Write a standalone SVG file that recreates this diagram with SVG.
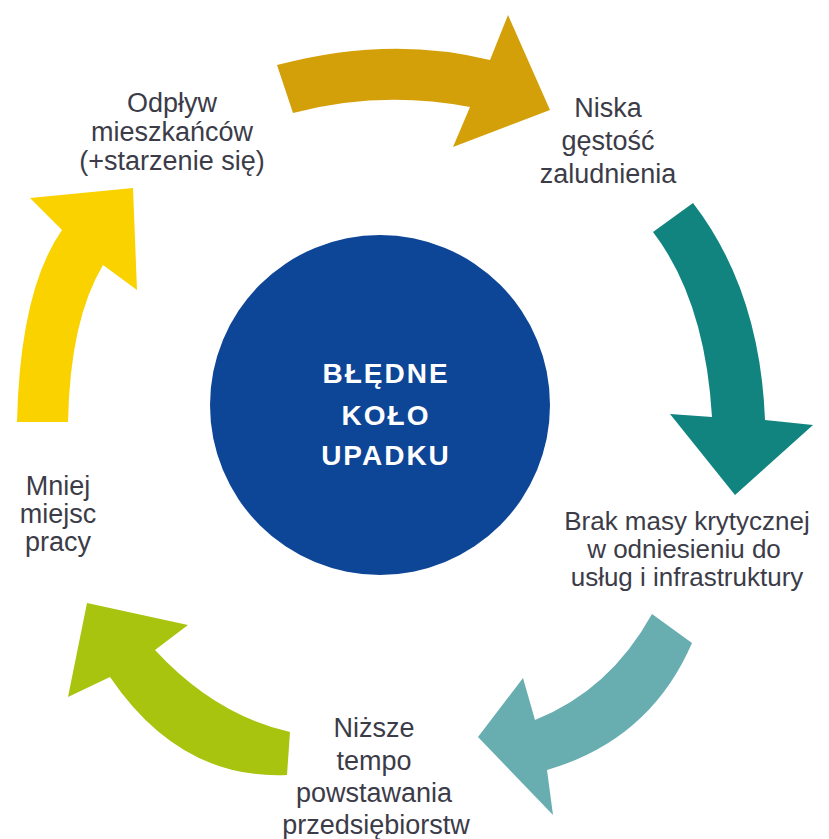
<svg xmlns="http://www.w3.org/2000/svg" width="829" height="839" viewBox="0 0 829 839">
<style>
.lbl{font-family:"Liberation Sans","Noto Sans",sans-serif;font-size:27px;fill:#3c3c48;text-anchor:middle}
.sm{font-size:26px}
.ctr{font-family:"Liberation Sans","Noto Sans",sans-serif;font-size:28px;font-weight:bold;fill:#ffffff;text-anchor:middle;letter-spacing:2px}
</style>
<rect width="829" height="839" fill="#ffffff"/>
<g id="connectors">
<path id="arrow-top" fill="#d4a00a" d="M277,65 Q390,35 490,60 L508,15 L550,110 L453,147 L470,107 Q380,90 293,113 Z"/>
<path id="arrow-right" fill="#12847f" d="M653,232 Q705,300 712,417 L670,414 L735,495 L813,425 L765,420 Q760,290 693,203 Z"/>
<path id="arrow-bottomright" fill="#68adb0" d="M652,614 Q610,690 535,720 L523,678 L478,737 L553,815 L547,770 Q650,740 692,643 Z"/>
<path id="arrow-bottomleft" fill="#a8c40e" d="M290,732 Q215,715 155,650 L188,625 L87,603 L68,697 L110,677 Q180,780 287,775 Z"/>
<path id="arrow-left" fill="#fad200" d="M17,422 Q20,290 62,230 L30,198 L133,188 L137,290 L103,265 Q70,320 68,422 Z"/>
</g>
<g id="center">
<circle cx="380" cy="405" r="170" fill="#0d4597"/>
<text class="ctr" x="386" y="383">BŁĘDNE</text>
<text class="ctr" x="386" y="425">KOŁO</text>
<text class="ctr" x="386" y="465">UPADKU</text>
</g>
<g id="node-odplyw">
<text class="lbl" x="172" y="112">Odpływ</text>
<text class="lbl" x="172" y="141">mieszkańców</text>
<text class="lbl" x="172" y="170">(+starzenie się)</text>
</g>
<g id="node-niska">
<text class="lbl" x="608" y="117">Niska</text>
<text class="lbl" x="608" y="150">gęstość</text>
<text class="lbl" x="608" y="183">zaludnienia</text>
</g>
<g id="node-brak">
<text class="lbl sm" x="687" y="530">Brak masy krytycznej</text>
<text class="lbl sm" x="684" y="558">w odniesieniu do</text>
<text class="lbl sm" x="687" y="586">usług i infrastruktury</text>
</g>
<g id="node-nizsze">
<text class="lbl" x="374" y="737">Niższe</text>
<text class="lbl" x="374" y="770">tempo</text>
<text class="lbl" x="374" y="802">powstawania</text>
<text class="lbl" x="376" y="834">przedsiębiorstw</text>
</g>
<g id="node-mniej">
<text class="lbl" x="58" y="495">Mniej</text>
<text class="lbl" x="58" y="523">miejsc</text>
<text class="lbl" x="58" y="551">pracy</text>
</g>
</svg>
